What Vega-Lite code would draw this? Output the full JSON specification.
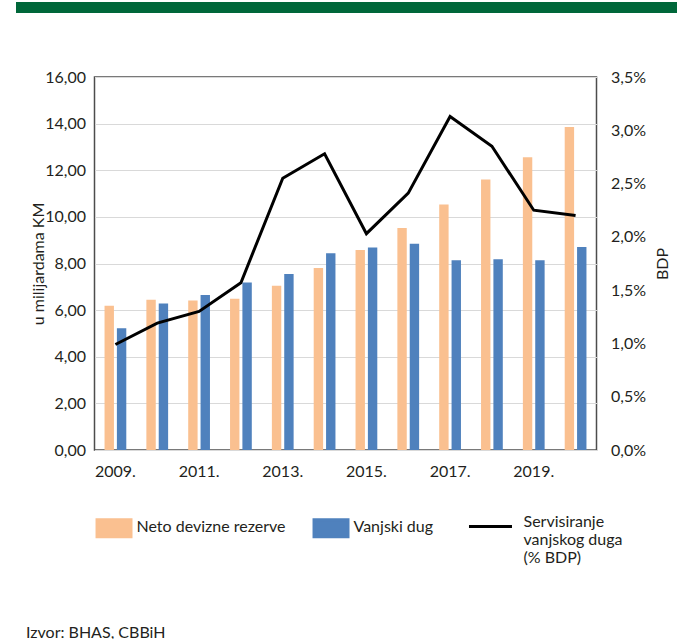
{
  "$schema": "https://vega.github.io/schema/vega-lite/v6.json",
  "padding": {"left": 9.5, "top": 0, "right": 3, "bottom": 0},
  "background": "white",
  "config": {
    "font": "Lato",
    "text": {"color": "#231f20"}
  },
  "title": {
    "text": "Izvor: BHAS, CBBiH",
    "orient": "bottom",
    "anchor": "start",
    "fontSize": 16,
    "fontWeight": "normal",
    "color": "#231f20",
    "offset": 59,
    "dx": 16
  },
  "columns": 1,
  "spacing": 55,
  "concat": [
    {
      "width": 582,
      "height": 11,
      "view": {"stroke": null},
      "data": {"values": [{"v": 0.5}]},
      "mark": {"type": "text", "text": ""},
      "encoding": {
        "y": {
          "field": "v",
          "type": "quantitative",
          "scale": {"domain": [0, 1]},
          "axis": {
            "title": null,
            "values": [0.5],
            "labels": false,
            "domain": false,
            "grid": false,
            "ticks": true,
            "offset": -582,
            "tickSize": 661,
            "tickWidth": 11,
            "tickColor": "#00673a",
            "tickCap": "butt"
          }
        }
      }
    },
    {
      "width": 502,
      "height": 373,
      "view": {"stroke": "#4d4d4d", "strokeWidth": 1.5},
      "data": {
        "values": [
          {"year": 2009, "series": "Neto devizne rezerve", "value": 6.19},
          {"year": 2010, "series": "Neto devizne rezerve", "value": 6.45},
          {"year": 2011, "series": "Neto devizne rezerve", "value": 6.41},
          {"year": 2012, "series": "Neto devizne rezerve", "value": 6.49},
          {"year": 2013, "series": "Neto devizne rezerve", "value": 7.05},
          {"year": 2014, "series": "Neto devizne rezerve", "value": 7.81},
          {"year": 2015, "series": "Neto devizne rezerve", "value": 8.58},
          {"year": 2016, "series": "Neto devizne rezerve", "value": 9.52},
          {"year": 2017, "series": "Neto devizne rezerve", "value": 10.53},
          {"year": 2018, "series": "Neto devizne rezerve", "value": 11.6},
          {"year": 2019, "series": "Neto devizne rezerve", "value": 12.56},
          {"year": 2020, "series": "Neto devizne rezerve", "value": 13.85},
          {"year": 2009, "series": "Vanjski dug", "value": 5.22},
          {"year": 2010, "series": "Vanjski dug", "value": 6.28},
          {"year": 2011, "series": "Vanjski dug", "value": 6.65},
          {"year": 2012, "series": "Vanjski dug", "value": 7.19},
          {"year": 2013, "series": "Vanjski dug", "value": 7.55},
          {"year": 2014, "series": "Vanjski dug", "value": 8.44},
          {"year": 2015, "series": "Vanjski dug", "value": 8.69},
          {"year": 2016, "series": "Vanjski dug", "value": 8.85},
          {"year": 2017, "series": "Vanjski dug", "value": 8.14},
          {"year": 2018, "series": "Vanjski dug", "value": 8.18},
          {"year": 2019, "series": "Vanjski dug", "value": 8.14},
          {"year": 2020, "series": "Vanjski dug", "value": 8.71},
          {"year": 2009, "series": "Servisiranje vanjskog duga (% BDP)", "value": 0.99},
          {"year": 2010, "series": "Servisiranje vanjskog duga (% BDP)", "value": 1.19},
          {"year": 2011, "series": "Servisiranje vanjskog duga (% BDP)", "value": 1.3},
          {"year": 2012, "series": "Servisiranje vanjskog duga (% BDP)", "value": 1.57},
          {"year": 2013, "series": "Servisiranje vanjskog duga (% BDP)", "value": 2.55},
          {"year": 2014, "series": "Servisiranje vanjskog duga (% BDP)", "value": 2.78},
          {"year": 2015, "series": "Servisiranje vanjskog duga (% BDP)", "value": 2.03},
          {"year": 2016, "series": "Servisiranje vanjskog duga (% BDP)", "value": 2.41},
          {"year": 2017, "series": "Servisiranje vanjskog duga (% BDP)", "value": 3.13},
          {"year": 2018, "series": "Servisiranje vanjskog duga (% BDP)", "value": 2.85},
          {"year": 2019, "series": "Servisiranje vanjskog duga (% BDP)", "value": 2.25},
          {"year": 2020, "series": "Servisiranje vanjskog duga (% BDP)", "value": 2.2}
        ]
      },
      "encoding": {
        "x": {
          "field": "year",
          "type": "ordinal",
          "scale": {"paddingInner": 0.48, "paddingOuter": 0.24},
          "axis": {
            "title": null,
            "labelExpr": "datum.value % 2 == 1 ? datum.value + '.' : ''",
            "labelAngle": 0,
            "labelFontSize": 16,
            "labelColor": "#231f20",
            "labelPadding": 13,
            "labelDx": 6,
            "ticks": false,
            "domain": false,
            "grid": false
          }
        }
      },
      "layer": [
        {
          "transform": [{"filter": "datum.series != 'Servisiranje vanjskog duga (% BDP)'"}],
          "mark": {"type": "bar"},
          "encoding": {
            "xOffset": {
              "field": "series",
              "type": "nominal",
              "sort": ["Neto devizne rezerve", "Vanjski dug"],
              "scale": {"paddingInner": 0.24, "paddingOuter": 0}
            },
            "y": {
              "field": "value",
              "type": "quantitative",
              "scale": {"domain": [0, 16]},
              "axis": {
                "title": "u milijardama KM",
                "titleFontSize": 16,
                "titleFontWeight": "normal",
                "titleColor": "#231f20",
                "titleX": -56,
                "titleBaseline": "middle",
                "minExtent": 79,
                "values": [0, 2, 4, 6, 8, 10, 12, 14, 16],
                "labelExpr": "replace(format(datum.value, '.2f'), '.', ',')",
                "labelFontSize": 16,
                "labelColor": "#231f20",
                "labelPadding": 9,
                "ticks": false,
                "domain": false,
                "grid": true,
                "gridColor": "#d9d9d9",
                "gridWidth": 1
              }
            },
            "color": {
              "field": "series",
              "type": "nominal",
              "scale": {
                "domain": ["Neto devizne rezerve", "Vanjski dug", "Servisiranje vanjskog duga (% BDP)"],
                "range": ["#fac090", "#4f81bd", "#000000"]
              },
              "legend": {
                "orient": "none",
                "legendX": -8,
                "legendY": 481,
                "direction": "horizontal",
                "columns": 3,
                "columnPadding": 17,
                "title": null,
                "symbolSize": 1849,
                "symbolStrokeWidth": 0,
                "labelOffset": 4,
                "labelFontSize": 16,
                "labelColor": "#231f20",
                "labelBaseline": "line-top",
                "labelLineHeight": 21.5,
                "labelLimit": 0,
                "labelExpr": "datum.value == 'Servisiranje vanjskog duga (% BDP)' ? ['Servisiranje', 'vanjskog duga', '(% BDP)'] : datum.label",
                "encode": {
                  "symbols": {
                    "update": {
                      "shape": {"signal": "datum.value == 'Servisiranje vanjskog duga (% BDP)' ? 'M-0.21,1H1.79' : 'M-0.58,-0.395H1V0.395H-0.58Z'"},
                      "fill": {"signal": "datum.value == 'Servisiranje vanjskog duga (% BDP)' ? 'transparent' : (datum.value == 'Vanjski dug' ? '#4f81bd' : '#fac090')"},
                      "stroke": {"signal": "datum.value == 'Servisiranje vanjskog duga (% BDP)' ? '#000000' : 'transparent'"},
                      "strokeWidth": {"value": 3},
                      "opacity": {"value": 1}
                    }
                  },
                  "labels": {
                    "update": {
                      "dy": {"signal": "datum.value == 'Servisiranje vanjskog duga (% BDP)' ? 8 : -10.5"},
                      "dx": {"signal": "datum.value == 'Servisiranje vanjskog duga (% BDP)' ? 23 : 0"}
                    }
                  }
                }
              }
            }
          }
        },
        {
          "transform": [{"filter": "datum.series == 'Servisiranje vanjskog duga (% BDP)'"}],
          "mark": {"type": "line", "strokeWidth": 3},
          "encoding": {
            "y": {
              "field": "value",
              "type": "quantitative",
              "scale": {"domain": [0, 3.5]},
              "axis": {
                "orient": "right",
                "title": "BDP",
                "titleAngle": 270,
                "titleFontSize": 16,
                "titleFontWeight": "normal",
                "titleColor": "#231f20",
                "titleX": 66,
                "titleBaseline": "middle",
                "values": [0, 0.5, 1, 1.5, 2, 2.5, 3, 3.5],
                "labelExpr": "replace(format(datum.value, '.1f'), '.', ',') + '%'",
                "labelFontSize": 16,
                "labelColor": "#231f20",
                "labelPadding": 14,
                "ticks": false,
                "domain": false,
                "grid": false
              }
            },
            "color": {"field": "series", "type": "nominal"}
          }
        }
      ],
      "resolve": {"scale": {"y": "independent"}}
    }
  ]
}
